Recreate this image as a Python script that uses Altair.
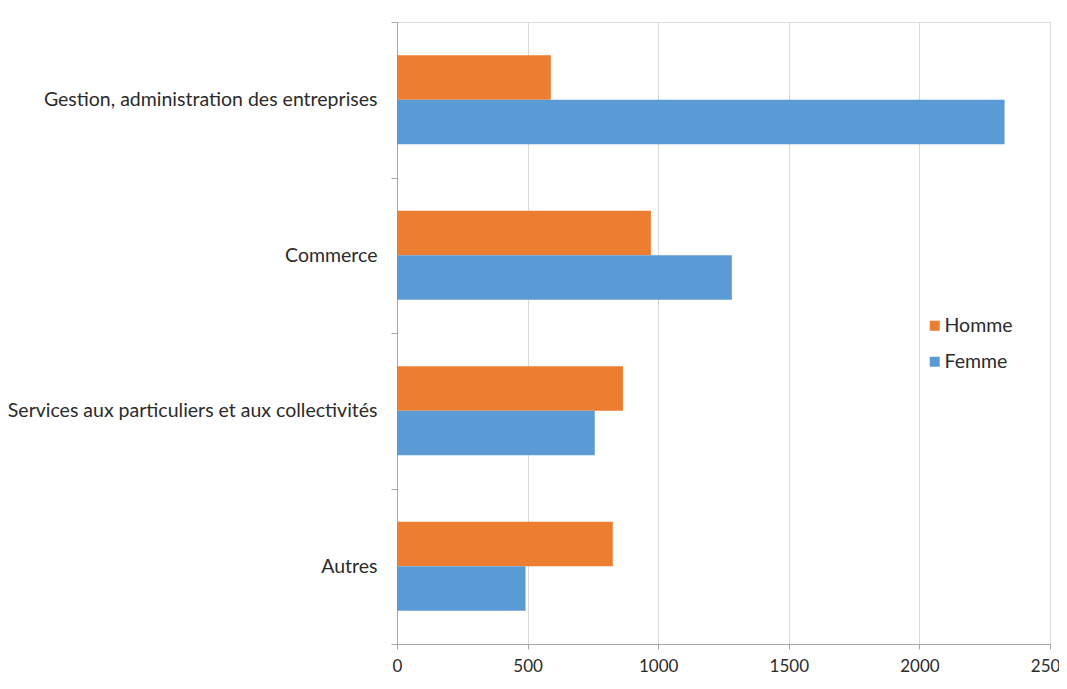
import altair as alt
import pandas as pd

categories = [
    "Gestion, administration des entreprises",
    "Commerce",
    "Services aux particuliers et aux collectivités",
    "Autres",
]
series = ["Homme", "Femme"]
homme = [589, 972, 865, 826]
femme = [2326, 1282, 757, 492]
colors = ["#ED7D31", "#5B9BD5"]
x_ticks = [0, 500, 1000, 1500, 2000, 2500]

rows = []
for c, h, f in zip(categories, homme, femme):
    rows.append({"cat": c, "sexe": "Homme", "val": h})
    rows.append({"cat": c, "sexe": "Femme", "val": f})
df = pd.DataFrame(rows)

FONT = "Lato"
TXT = "#2b2b2b"
AX = "#a6a6a6"
W, H = 653, 622

bars = alt.Chart(df).mark_bar().encode(
    x=alt.X("val:Q",
            scale=alt.Scale(domain=[0, 2500], nice=False),
            axis=alt.Axis(values=x_ticks, format="d", title=None, grid=True,
                          gridColor="#d9d9d9",
                          domainColor=AX, tickColor=AX, tickSize=5,
                          labelFont=FONT, labelFontSize=17, labelColor=TXT,
                          labelPadding=9, labelFlush=False)),
    y=alt.Y("cat:N", sort=categories,
            scale=alt.Scale(paddingInner=0, paddingOuter=0),
            axis=alt.Axis(title=None, tickBand="extent", domainColor=AX, tickColor=AX,
                          tickSize=6, labelFont=FONT, labelFontSize=19.5, labelColor=TXT,
                          labelPadding=14, labelLimit=500, grid=False)),
    yOffset=alt.YOffset("sexe:N", sort=series,
                        scale=alt.Scale(paddingInner=0, paddingOuter=0.75)),
    color=alt.Color("sexe:N", sort=series,
                    scale=alt.Scale(domain=series, range=colors),
                    legend=alt.Legend(title=None, orient="none", legendX=528, legendY=294,
                                      symbolType="square", symbolSize=100,
                                      symbolStrokeWidth=0, labelFont=FONT,
                                      labelFontSize=19.5, labelColor=TXT, rowPadding=15,
                                      labelOffset=0, padding=0)),
)

chart = bars.properties(
    width=W, height=H,
    autosize=alt.AutoSizeParams(type="none"),
    padding={"left": 389, "top": 14, "right": 9, "bottom": 37},
).configure_view(stroke=None).configure(background="white")

chart.save("out.html", embed_options={"renderer": "svg", "actions": False})
